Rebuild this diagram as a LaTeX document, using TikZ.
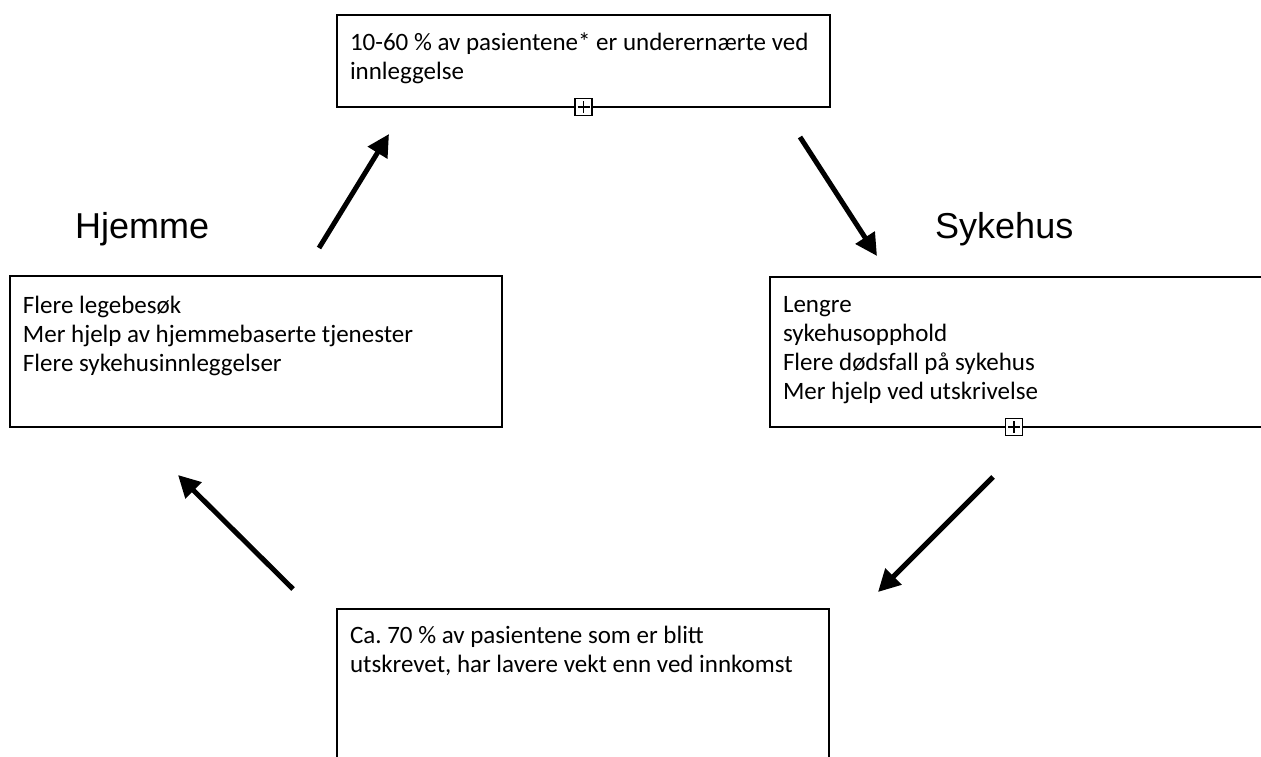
\documentclass[tikz,border=0pt]{standalone}
\usepackage{fontspec}
\setmainfont{Carlito}
\newfontfamily\labelfont{Liberation Sans}
\usetikzlibrary{arrows.meta}
\frenchspacing
\begin{document}
\begin{tikzpicture}[x=1pt,y=-1pt,
  box/.style={draw, line width=2.8pt, inner xsep=13pt, inner ysep=0pt, outer sep=0pt, anchor=north west, font=\fontsize{25}{29.2}\selectfont},
  lab/.style={font=\labelfont\fontsize{36}{40}\selectfont, anchor=base west, inner sep=0pt},
  arr/.style={line width=5pt, -{Triangle[length=22pt,width=22pt]}},
  plusbox/.style={draw, line width=1.4pt, fill=white, minimum size=17pt, inner sep=0pt,
    path picture={\draw[line width=1.4pt] ([xshift=-6pt]path picture bounding box.center) -- ([xshift=6pt]path picture bounding box.center);
                  \draw[line width=1.4pt] ([yshift=-6pt]path picture bounding box.center) -- ([yshift=6pt]path picture bounding box.center);}}]
\useasboundingbox (0,0) rectangle (1261,756);
\fill[white] (0,0) rectangle (1261,756);

\node[box] (top) at (337,15) {\parbox[t][92pt][t]{467pt}{\raggedright\rule{0pt}{35pt}10-60 \% av pasientene* er underernærte ved\\innleggelse}};
\node[box] (left) at (10,276) {\parbox[t][151pt][t]{466pt}{\raggedright\rule{0pt}{37pt}Flere legebesøk\\Mer hjelp av hjemmebaserte tjenester\\Flere sykehusinnleggelser}};
\node[box] (right) at (770,277) {\parbox[t][150pt][t]{466pt}{\raggedright\rule{0pt}{35pt}Lengre\\sykehusopphold\\Flere dødsfall på sykehus\\Mer hjelp ved utskrivelse}};
\node[box] (bottom) at (337,609) {\parbox[t][200pt][t]{466pt}{\raggedright\rule{0pt}{34pt}Ca. 70 \% av pasientene som er blitt\\utskrevet, har lavere vekt enn ved innkomst}};

\node[plusbox] (ptop) at (top.south) {};
\node[plusbox] (pright) at ([xshift=-2pt]right.south) {};

\node[lab] (hjemme) at (75,238) {Hjemme};
\node[lab] (sykehus) at (935,238) {Sykehus};

\coordinate (a1s) at (319,248); \coordinate (a1e) at (389,134);
\coordinate (a2s) at (800,137); \coordinate (a2e) at (877,256);
\coordinate (a3s) at (993,477); \coordinate (a3e) at (878,592);
\coordinate (a4s) at (293,589); \coordinate (a4e) at (178,475);
\draw[arr] (a1s) -- (a1e);
\draw[arr] (a2s) -- (a2e);
\draw[arr] (a3s) -- (a3e);
\draw[arr] (a4s) -- (a4e);
\end{tikzpicture}
\end{document}
